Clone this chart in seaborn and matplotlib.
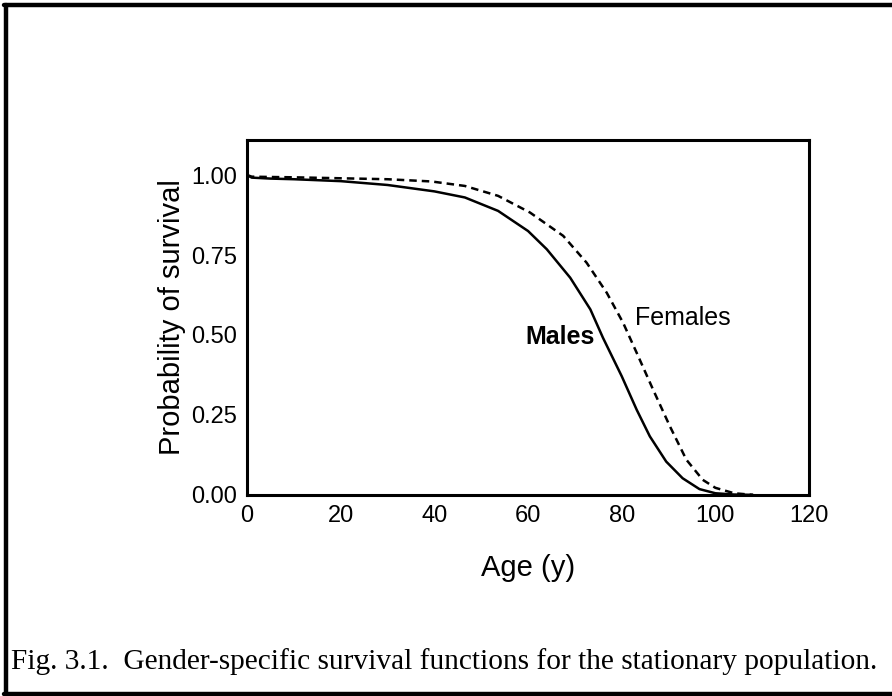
import pandas as pd
import matplotlib.pyplot as plt
import seaborn as sns
from matplotlib.lines import Line2D

# values
male_age = [0, 1, 5, 10, 20, 30, 40, 46.5, 53.6, 60, 64, 69, 73.3, 76, 80,
            83.2, 86, 89.5, 93, 96.6, 100, 104, 108]
male_surv = [1.0, 0.992, 0.989, 0.987, 0.981, 0.969, 0.949, 0.930, 0.888, 0.825,
             0.768, 0.679, 0.580, 0.491, 0.371, 0.266, 0.183, 0.104, 0.052,
             0.018, 0.005, 0.001, 0.0]

female_age = [0, 1, 5, 10, 20, 30, 39.4, 46.5, 53.6, 60.4, 67.5, 72.5, 76.8,
              80.3, 83.2, 86.7, 90.3, 93.8, 97.3, 100, 104, 108]
female_surv = [1.0, 0.995, 0.994, 0.993, 0.990, 0.987, 0.980, 0.966, 0.935,
               0.883, 0.810, 0.726, 0.632, 0.538, 0.444, 0.329, 0.214, 0.110,
               0.047, 0.022, 0.005, 0.0]

x_ticks = [0, 20, 40, 60, 80, 100, 120]
y_ticks = [0.0, 0.25, 0.50, 0.75, 1.00]

males = pd.DataFrame({"age": male_age, "survival": male_surv})
females = pd.DataFrame({"age": female_age, "survival": female_surv})

sns.set_style("white")
plt.rcParams["font.family"] = ["Liberation Sans", "DejaVu Sans"]
plt.rcParams["text.color"] = "black"
plt.rcParams["axes.labelcolor"] = "black"

fig = plt.figure(figsize=(8.92, 6.96), dpi=100)
ax = fig.add_axes([0.277, 0.289, 0.630, 0.510])

sns.lineplot(data=males, x="age", y="survival", ax=ax, color="black",
             linewidth=1.8)
sns.lineplot(data=females, x="age", y="survival", ax=ax, color="black",
             linewidth=1.8, linestyle=(0, (3, 2)))

ax.set_xlim(0, 120)
ax.set_ylim(0, 1.11)
ax.set_xticks(x_ticks)
ax.set_yticks(y_ticks)
ax.set_xticklabels([str(t) for t in x_ticks])
ax.set_yticklabels([f"{t:.2f}" for t in y_ticks])
ax.tick_params(direction="in", length=7, width=2, labelsize=17, pad=7,
               colors="black")
for s in ax.spines.values():
    s.set_linewidth(2.2)
    s.set_color("black")

ax.set_xlabel("Age (y)", fontsize=21, labelpad=20)
ax.set_ylabel("Probability of survival", fontsize=21, labelpad=4)

ax.text(74.3, 0.494, "Males", fontsize=18, fontweight="bold", ha="right",
        va="center")
ax.text(82.9, 0.553, "Females", fontsize=18, ha="left", va="center")

fig.text(0.012, 0.049, "Fig. 3.1.  Gender-specific survival functions for the "
         "stationary population.", family=["Liberation Serif", "DejaVu Serif"],
         fontsize=21.2, ha="left", va="center")

# frame around the figure (top, left, bottom)
for xs, ys in [([0.005, 1.0], [0.993, 0.993]),
               ([0.0062, 0.0062], [0.0035, 0.993]),
               ([0.005, 1.0], [0.0035, 0.0035])]:
    fig.add_artist(Line2D(xs, ys, color="black", linewidth=3.2,
                          transform=fig.transFigure))

fig.savefig("out.png", dpi=100)
